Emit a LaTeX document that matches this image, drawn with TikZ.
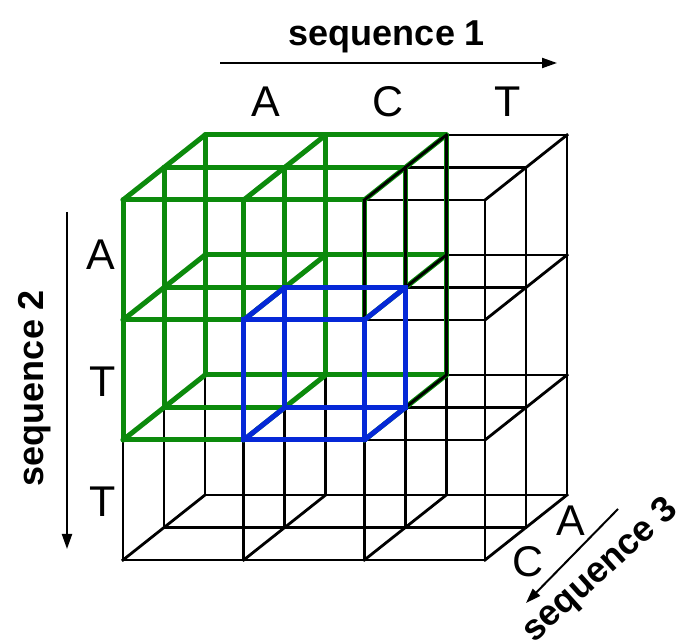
\documentclass[tikz,border=0pt]{standalone}
\usepackage{fontspec}
\setmainfont{Liberation Sans}
\usetikzlibrary{arrows.meta}
\definecolor{gridgreen}{RGB}{12,138,12}
\definecolor{gridblue}{RGB}{5,40,215}
\begin{document}
\begin{tikzpicture}[x=1pt,y=1pt,
  gridline/.style={draw=black, line width=2.8pt, line cap=rect},
  greenline/.style={draw=gridgreen, line width=5pt, line cap=round},
  blueline/.style={draw=gridblue, line width=5pt, line cap=round},
  seqarrow/.style={draw=black, line width=2pt, -{Triangle[length=15pt,width=10pt]}},
  letter/.style={inner sep=0pt, font=\fontsize{43}{43}\selectfont},
  seqlabel/.style={inner sep=0pt, font=\fontsize{36}{36}\selectfont\bfseries}]
\useasboundingbox (0,0) rectangle (679,644);
\begin{scope}[shift={(123,444)}, x={(120.67pt,0pt)}, y={(0pt,-120pt)}, z={(41pt,32.5pt)}]
  % black wireframe of the 3x3x2 grid
  \foreach \j in {0,...,3} \foreach \k in {0,1,2} \draw[gridline] (0,\j,\k) -- (3,\j,\k);
  \foreach \i in {0,...,3} \foreach \k in {0,1,2} \draw[gridline] (\i,0,\k) -- (\i,3,\k);
  \foreach \i in {0,...,3} \foreach \j in {0,...,3} \draw[gridline] (\i,\j,0) -- (\i,\j,2);
  % green block
  \foreach \j in {0,1,2} \foreach \k in {0,1,2} \draw[greenline] (0,\j,\k) -- (2,\j,\k);
  \foreach \i in {0,1,2} \foreach \k in {0,1,2} \draw[greenline] (\i,0,\k) -- (\i,2,\k);
  \foreach \i in {0,1,2} \foreach \j in {0,1,2} \draw[greenline] (\i,\j,0) -- (\i,\j,2);
  % black lines over the green on the right face of the block
  \foreach \k in {0,1,2} \draw[gridline] (2,0,\k) -- (2,2,\k);
  \foreach \j in {0,1,2} \draw[gridline] (2,\j,0) -- (2,\j,2);
  % blue cell
  \draw[blueline] (1,1,0) -- (2,1,0) -- (2,2,0) -- (1,2,0) -- cycle;
  \draw[blueline] (1,1,1) -- (2,1,1) -- (2,2,1) -- (1,2,1) -- cycle;
  \foreach \i in {1,2} \foreach \j in {1,2} \draw[blueline] (\i,\j,0) -- (\i,\j,1);
\end{scope}
% sequence 1
\node[seqlabel, anchor=base] (s1) at (387,598) {sequence 1};
\coordinate (s1a) at (220,581);
\coordinate (s1b) at (557,581);
\draw[seqarrow] (s1a) -- (s1b);
\node[letter, anchor=base] (s1A) at (266,527) {A};
\node[letter, anchor=base] (s1C) at (388,527) {C};
\node[letter, anchor=base] (s1T) at (508,527) {T};
% sequence 2
\node[seqlabel, anchor=base, rotate=90] (s2) at (43,256) {sequence 2};
\coordinate (s2a) at (67,432);
\coordinate (s2b) at (67,95);
\draw[seqarrow] (s2a) -- (s2b);
\node[letter, anchor=base] (s2A) at (101,374) {A};
\node[letter, anchor=base] (s2T) at (103,247) {T};
\node[letter, anchor=base] (s2T2) at (103,127) {T};
% sequence 3
\node[seqlabel, anchor=center, rotate=42] (s3) at (601,73) {sequence 3};
\coordinate (s3a) at (618,135);
\coordinate (s3b) at (526,41);
\draw[seqarrow] (s3a) -- (s3b);
\node[letter] (s3A) at (571,123) {A};
\node[letter] (s3C) at (528,82) {C};
\end{tikzpicture}
\end{document}
